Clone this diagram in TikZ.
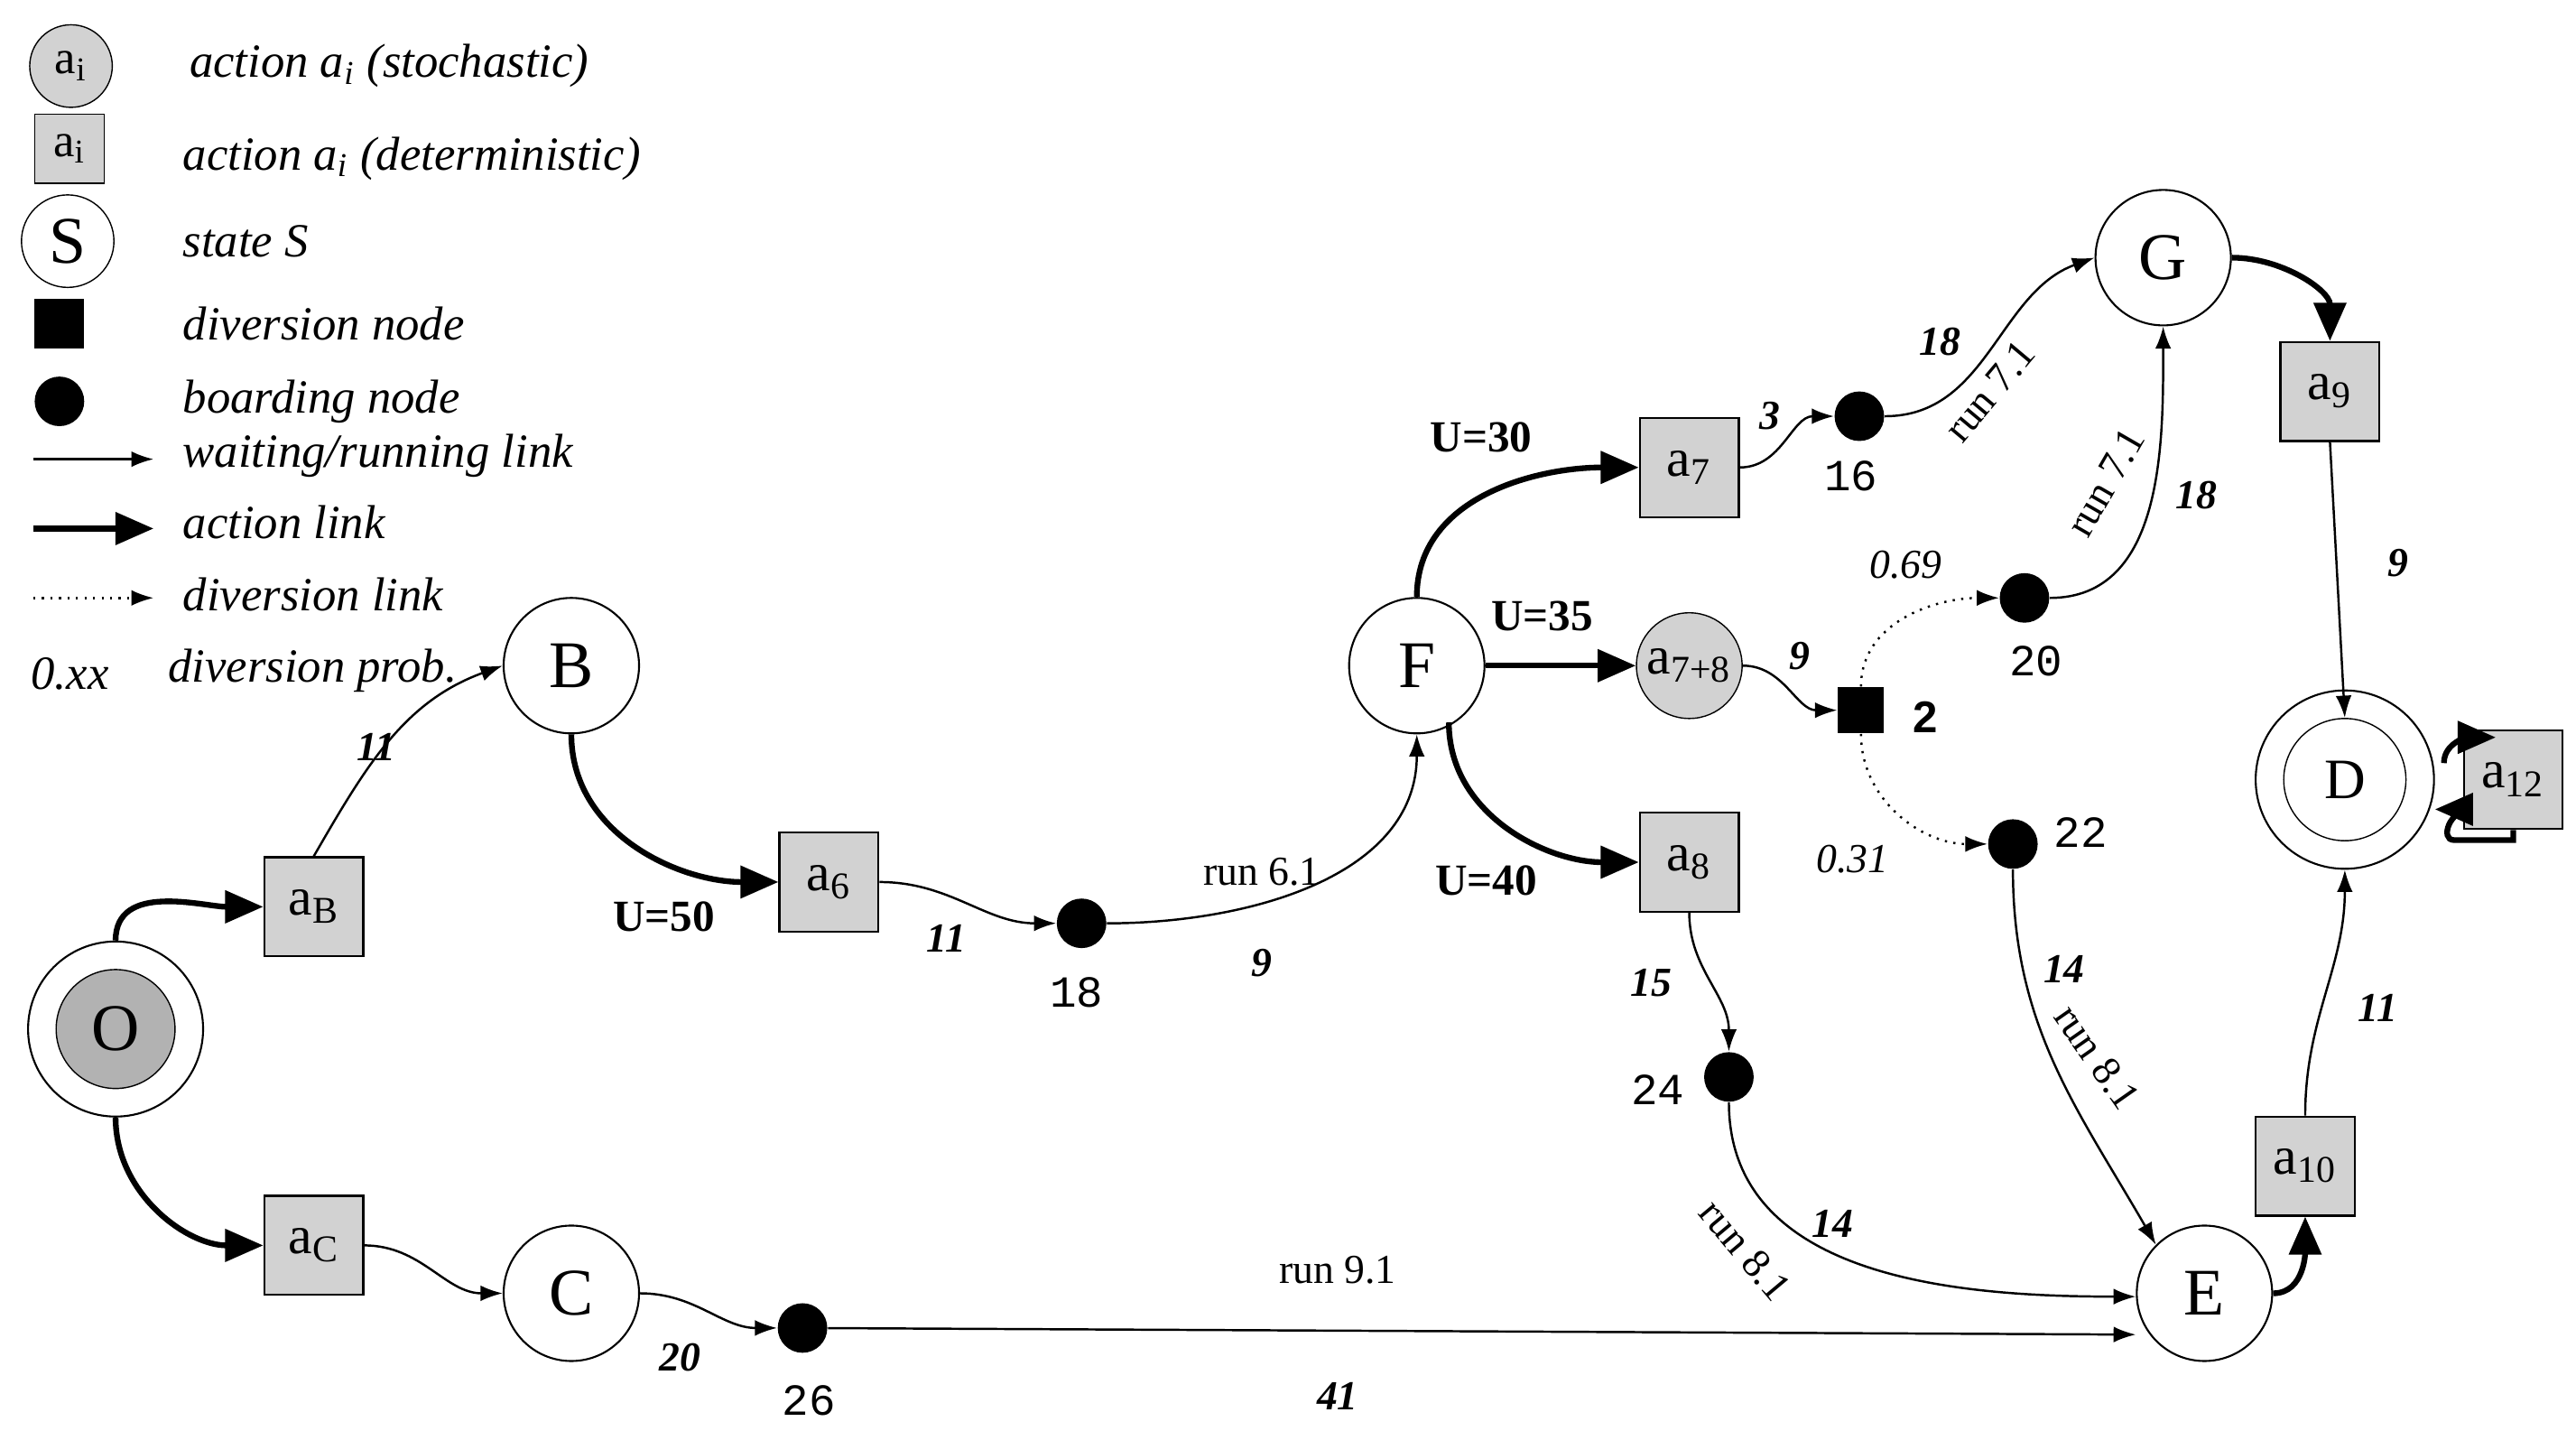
\documentclass[tikz,border=0pt]{standalone}
\usepackage{fontspec}
\setmainfont{Liberation Serif}
\newfontfamily\mono{Liberation Mono}
\newfontfamily\sans{Liberation Sans}
\usetikzlibrary{arrows.meta,calc}
\begin{document}
\begin{tikzpicture}[x=0.0183cm,y=-0.0183cm,
 st/.style={circle,draw,line width=0.6pt,minimum size=82*0.0183cm,inner sep=0,font=\fontsize{21}{24}\selectfont},
 sq/.style={rectangle,draw,fill=gray!35,line width=0.6pt,minimum size=60*0.0183cm,inner sep=0,font=\fontsize{17}{20}\selectfont},
 dot/.style={circle,fill=black,minimum size=30*0.0183cm,inner sep=0},
 thin/.style={line width=0.7pt,-{Latex[length=7pt,width=5pt]}},
 act/.style={line width=1.8pt,-{Triangle[length=12pt,width=10pt]}},
 dv/.style={line width=0.7pt,dotted,-{Latex[length=7pt,width=5pt]}},
 lb/.style={font=\fontsize{13}{15}\selectfont\itshape\bfseries},
 rn/.style={font=\fontsize{13}{15}\selectfont},
 nm/.style={font=\fontsize{14}{16}\selectfont\mono},
 ul/.style={font=\fontsize{14}{16}\selectfont\bfseries},
 lg/.style={font=\fontsize{15}{18}\selectfont\itshape,anchor=west}]
\useasboundingbox (0,0) rectangle (1560,866);
% legend
\node[circle,draw,fill=gray!35,minimum size=50*0.0183cm,inner sep=0,font=\fontsize{15}{18}\selectfont] (l1) at (43,40) {a\textsubscript{i}};
\node[rectangle,draw,fill=gray!35,minimum size=42*0.0183cm,inner sep=0,font=\fontsize{15}{18}\selectfont] (l2) at (42,90) {a\textsubscript{i}};
\node[circle,draw,minimum size=56*0.0183cm,inner sep=0,font=\fontsize{21}{24}\selectfont] (l3) at (41,146) {S};
\node[rectangle,fill=black,minimum size=30*0.0183cm,inner sep=0] (l4) at (36,196) {};
\node[dot] (l5) at (36,243) {};
\coordinate (w1) at (20,278); \coordinate (w2) at (93,278);
\draw[thin] (w1) -- (w2);
\coordinate (k1) at (20,320); \coordinate (k2) at (93,320);
\draw[act] (k1) -- (k2);
\coordinate (d1) at (20,362); \coordinate (d2) at (93,362);
\draw[dv] (d1) -- (d2);
\node[lg] (t1) at (108,40) {action a\textsubscript{i} (stochastic)};
\node[lg] (t2) at (104,96) {action a\textsubscript{i} (deterministic)};
\node[lg] (t3) at (104,146) {state S};
\node[lg] (t4) at (104,196) {diversion node};
\node[lg] (t5) at (104,243) {boarding node};
\node[lg] (t6) at (104,276) {waiting/running link};
\node[lg] (t7) at (104,316) {action link};
\node[lg] (t8) at (104,360) {diversion link};
\node[lg] (t9) at (12,408) {0.xx};
\node[lg] (t10) at (95,406) {diversion prob.};
% nodes
\node[st,minimum size=106*0.0183cm] (O) at (70,623) {};
\node[circle,draw,fill=gray!60,minimum size=72*0.0183cm,inner sep=0,font=\fontsize{21}{24}\selectfont] (Oi) at (70,623) {O};
\node[sq] (aB) at (190,549) {a\textsubscript{B}};
\node[sq] (aC) at (190,754) {a\textsubscript{C}};
\node[st] (B) at (346,403) {B};
\node[st] (C) at (346,783) {C};
\node[sq] (a6) at (502,534) {a\textsubscript{6}};
\node[dot] (n18) at (655,559) {};
\node[st] (F) at (858,403) {F};
\node[sq] (a7) at (1023,283) {a\textsubscript{7}};
\node[circle,draw,fill=gray!35,minimum size=64*0.0183cm,inner sep=0,font=\fontsize{17}{20}\selectfont] (a78) at (1023,403) {a\textsubscript{7+8}};
\node[sq] (a8) at (1023,522) {a\textsubscript{8}};
\node[dot] (n16) at (1126,252) {};
\node[rectangle,fill=black,minimum size=28*0.0183cm,inner sep=0] (dv) at (1127,430) {};
\node[dot] (n20) at (1226,362) {};
\node[dot] (n22) at (1219,511) {};
\node[dot] (n24) at (1047,652) {};
\node[dot] (n26) at (486,804) {};
\node[st] (G) at (1310,156) {G};
\node[sq] (a9) at (1411,237) {a\textsubscript{9}};
\node[st,minimum size=108*0.0183cm] (D) at (1420,472) {};
\node[circle,draw,minimum size=74*0.0183cm,inner sep=0,font=\fontsize{18}{20}\selectfont] (Di) at (1420,472) {D};
\node[sq] (a12) at (1522,472) {a\textsubscript{12}};
\node[st] (E) at (1335,783) {E};
\node[sq] (a10) at (1396,706) {a\textsubscript{10}};
% number labels
\node[nm] at (652,601) {18};
\node[nm] at (1121,288) {16};
\node[nm] at (1233,400) {20};
\node[nm] at (1260,504) {22};
\node[nm] at (1004,660) {24};
\node[nm] at (490,848) {26};
\node[font=\fontsize{14}{16}\selectfont\sans\bfseries] at (1166,434) {2};
% edges
\draw[act] (O.north) to[out=90,in=180] (aB.west);
\draw[act] (O.south) to[out=-90,in=180] (aC.west);
\draw[thin] (aB.north) to[out=60,in=200] (B.west) ;
\node[lb] at (228,452) {11};
\draw[act] (B.south) to[out=-90,in=180] (a6.west);
\node[ul] at (402,555) {U=50};
\draw[thin] (a6.east) to[out=0,in=180] (n18);
\node[lb] at (573,568) {11};
\draw[thin] (n18) to[out=0,in=-90] (F.south);
\node[rn] at (764,528) {run 6.1};
\node[lb] at (764,583) {9};
\draw[act] (F.north) to[out=90,in=180] (a7.west);
\node[ul] at (897,265) {U=30};
\draw[act] (F.east) -- (a78.west);
\node[ul] at (934,373) {U=35};
\draw[act] ($(F.south east)+(-10,5)$) to[out=-90,in=180] (a8.west);
\node[ul] at (900,533) {U=40};
\draw[thin] (a7.east) to[out=0,in=180] (n16);
\node[lb] at (1072,252) {3};
\draw[thin] (n16) to[out=0,in=200] (G.west);
\node[lb] at (1175,207) {18};
\node[rn,rotate=50] at (1205,237) {run 7.1};
\draw[thin] (a78.east) to[out=0,in=180] (dv.west);
\node[lb] at (1090,397) {9};
\draw[dv] (dv.north) to[out=90,in=180] (n20);
\node[lb,font=\fontsize{13}{15}\selectfont\itshape] at (1154,342) {0.69};
\draw[dv] (dv.south) to[out=-90,in=180] (n22);
\node[lb,font=\fontsize{13}{15}\selectfont\itshape] at (1122,520) {0.31};
\draw[thin] (n20) to[out=0,in=-90] (G.south);
\node[lb] at (1330,300) {18};
\node[rn,rotate=60] at (1275,292) {run 7.1};
\draw[act] (G.east) to[out=0,in=90] (a9.north);
\draw[thin] (a9.south) -- (Di.north);
\node[lb] at (1452,341) {9};
\draw[thin] (a8.south) to[out=-90,in=90] (n24);
\node[lb] at (1000,595) {15};
\draw[thin] (n24) to[out=-90,in=180] ($(E.west)+(0,2)$);
\node[lb] at (1110,741) {14};
\node[rn,rotate=-50] at (1057,757) {run 8.1};
\draw[thin] (n22) to[out=-90,in=120] (E.north west);
\node[lb] at (1250,587) {14};
\node[rn,rotate=-55] at (1270,640) {run 8.1};
\draw[thin] (aC.east) to[out=0,in=180] (C.west);
\draw[thin] (C.east) to[out=0,in=180] (n26);
\node[lb] at (412,822) {20};
\draw[thin] (n26) -- ($(E.west)+(0,25)$);
\node[rn] at (810,769) {run 9.1};
\node[lb] at (810,845) {41};
\draw[act] (E.east) to[out=0,in=-90] (a10.south);
\draw[thin] (a10.north) to[out=90,in=-90] (D.south);
\node[lb] at (1440,610) {11};
\coordinate (dq) at (1480,462);
\draw[act] (dq) to[out=90,in=180] ($(a12.north west)+(20,5)$);
\draw[act] ($(a12.south)+(0,0)$) -- ++(0,6) -- ++(-36,0) to[out=180,in=0] ($(D.east)+(0,18)$);
\end{tikzpicture}
\end{document}
